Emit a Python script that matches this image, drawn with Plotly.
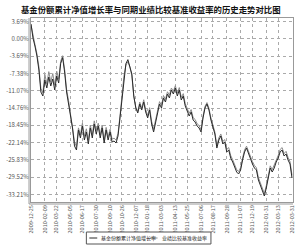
import plotly.graph_objects as go

title_text = "基金份额累计净值增长率与同期业绩比较基准收益率的历史走势对比图"
series_names = ["基金份额累计净值增长率", "业绩比较基准收益率"]

fund = [3.16, 0.17, -1.54, -3.67, -6.66, -11.35, -12.20, -8.79, -10.49, -8.15,
        -10.07, -8.57, -10.92, -7.93, -9.43, -5.29, -4.01, -7.08, -11.35, -13.91,
        -16.89, -19.02, -22.86, -23.72, -19.45, -21.16, -18.60, -21.59, -19.88, -22.44,
        -19.02, -21.16, -18.17, -20.31, -18.60, -21.16, -19.02, -22.23, -19.45, -21.59,
        -19.88, -22.01, -21.80, -22.23, -20.73, -16.89, -12.62, -7.93, -5.29, -4.44,
        -5.72, -7.51, -12.20, -14.76, -15.83, -13.91, -15.19, -13.48, -15.61, -16.89,
        -15.19, -18.17, -19.88, -17.75, -16.04, -13.91, -14.76, -12.62, -13.48, -11.77,
        -12.62, -10.92, -11.77, -10.49, -12.20, -10.92, -13.05, -12.20, -14.33, -15.61,
        -16.47, -15.61, -17.32, -17.75, -18.60, -19.02, -19.88, -16.89, -14.76, -13.91,
        -15.19, -17.32, -18.60, -20.31, -23.30, -21.59, -20.73, -22.44, -22.01, -24.15,
        -23.72, -25.43, -26.28, -27.56, -28.41, -28.84, -27.98, -25.85, -24.15, -23.30,
        -24.57, -25.43, -26.71, -27.56, -27.98, -30.12, -31.40, -32.68, -33.53, -31.82,
        -29.69, -27.56, -28.41, -27.56, -26.28, -25.43, -24.15, -23.72, -25.00, -24.57,
        -25.85, -26.71, -29.69]

benchmark = [3.0, 0.5, -1.2, -3.2, -6.0, -10.6, -11.5, -7.6, -9.6, -7.0,
             -9.2, -7.4, -9.9, -6.9, -8.6, -4.8, -3.6, -6.5, -10.8, -13.2,
             -16.2, -18.5, -22.0, -23.0, -19.0, -20.5, -18.0, -20.8, -19.2, -21.6,
             -18.4, -20.4, -17.5, -19.6, -18.0, -20.5, -18.4, -21.5, -18.9, -20.9,
             -19.3, -21.4, -21.2, -21.6, -20.2, -16.5, -12.4, -7.9, -5.6, -4.9,
             -6.0, -7.9, -12.4, -14.6, -15.5, -13.5, -14.8, -13.0, -15.1, -16.4,
             -14.7, -17.6, -19.3, -17.2, -15.5, -13.4, -14.2, -12.1, -12.9, -11.3,
             -12.0, -10.5, -11.2, -10.0, -11.6, -10.4, -12.5, -11.7, -13.8, -15.0,
             -15.9, -15.1, -16.8, -17.2, -18.1, -18.5, -19.4, -16.5, -14.4, -13.6,
             -14.8, -16.9, -18.2, -19.9, -22.8, -21.1, -20.3, -21.9, -21.5, -23.6,
             -23.2, -24.9, -25.8, -27.1, -27.9, -28.3, -27.5, -25.4, -23.7, -22.9,
             -24.1, -24.9, -26.2, -27.0, -27.5, -29.6, -30.9, -32.1, -33.0, -31.3,
             -29.2, -27.1, -27.9, -27.0, -25.8, -24.9, -23.6, -23.2, -24.5, -24.0,
             -25.3, -26.2, -29.1]

x_labels = ["2009-12-25", "2010-02-09", "2010-03-22", "2010-05-05", "2010-06-17",
            "2010-07-30", "2010-09-10", "2010-10-26", "2010-12-07", "2011-01-18",
            "2011-03-03", "2011-04-13", "2011-05-25", "2011-07-06", "2011-08-17",
            "2011-09-28", "2011-11-07", "2011-12-19", "2012-01-31", "2012-03-13",
            "2012-03-31"]

y_ticks = [3.69, 0.0, -3.69, -7.38, -11.07, -14.76, -18.45, -22.14, -25.83, -29.52, -33.21]
y_labels = ["3.69%", "0.00%", "-3.69%", "-7.38%", "-11.07%", "-14.76%", "-18.45%",
            "-22.14%", "-25.83%", "-29.52%", "-33.21%"]

colors = ["#2a2a2a", "#8c8c8c"]

n = len(fund)
xs = list(range(n))
nt = len(x_labels)
tick_pos = [round(i * (n - 1) / (nt - 1)) for i in range(nt)]

W, H = 300, 248
ML, MR, MT, MB = 31, 4, 18, 46
PW, PH = W - ML - MR, H - MT - MB


def px(xp):
    return (xp - ML) / PW


def py(yp):
    return (H - MB - yp) / PH


fig = go.Figure()
fig.add_trace(go.Scatter(x=xs, y=benchmark, mode="lines", name=series_names[1],
                         line=dict(color=colors[1], width=1), showlegend=False))
fig.add_trace(go.Scatter(x=xs, y=fund, mode="lines", name=series_names[0],
                         line=dict(color=colors[0], width=1), showlegend=False))

fig.update_layout(
    width=W, height=H,
    margin=dict(l=ML, r=MR, t=MT, b=MB),
    paper_bgcolor="white", plot_bgcolor="white",
    font=dict(family="Noto Sans CJK SC", size=6, color="#555"),
    showlegend=False,
    xaxis=dict(range=[0, n - 0.5], tickvals=tick_pos, ticktext=x_labels, tickangle=-90,
               showgrid=True, gridcolor="#aaa", griddash="dot", gridwidth=1,
               showline=True, linecolor="#999", linewidth=1, mirror=True,
               ticks="", zeroline=False, tickfont=dict(size=5.5, color="#555")),
    yaxis=dict(range=[-34.81, 4.44], tickvals=y_ticks, ticktext=y_labels,
               showgrid=True, gridcolor="#aaa", griddash="dot", gridwidth=1,
               showline=True, linecolor="#999", linewidth=1, mirror=True,
               ticks="", zeroline=False, tickfont=dict(size=6, color="#555")),
)

# title as annotation, centred at ~y=9px
fig.add_annotation(xref="paper", yref="paper", x=px(152), y=py(9.5), text="<b>" + title_text + "</b>",
                   showarrow=False, xanchor="center", yanchor="middle",
                   font=dict(family="Noto Sans CJK SC", size=8.4, color="#111"))

# double axis lines on left and bottom
fig.add_shape(type="line", xref="paper", yref="paper", x0=px(29), x1=px(29), y0=py(204), y1=1,
              line=dict(color="#999", width=1))
fig.add_shape(type="line", xref="paper", yref="paper", x0=px(29), x1=1, y0=py(204), y1=py(204),
              line=dict(color="#999", width=1))

# manual legend
fig.add_shape(type="rect", xref="paper", yref="paper", x0=px(87), x1=px(213),
              y0=py(244), y1=py(232), line=dict(color="#555", width=1), fillcolor="white")
legend_x = [90, 151]
for i, name in enumerate(series_names):
    x0 = legend_x[i]
    fig.add_shape(type="line", xref="paper", yref="paper", x0=px(x0), x1=px(x0 + 8),
                  y0=py(238), y1=py(238), line=dict(color=colors[i], width=1))
    fig.add_annotation(xref="paper", yref="paper", x=px(x0 + 10), y=py(238), text=name,
                       showarrow=False, xanchor="left", yanchor="middle",
                       font=dict(size=5, color="#222"))

fig.write_html("out.html")
